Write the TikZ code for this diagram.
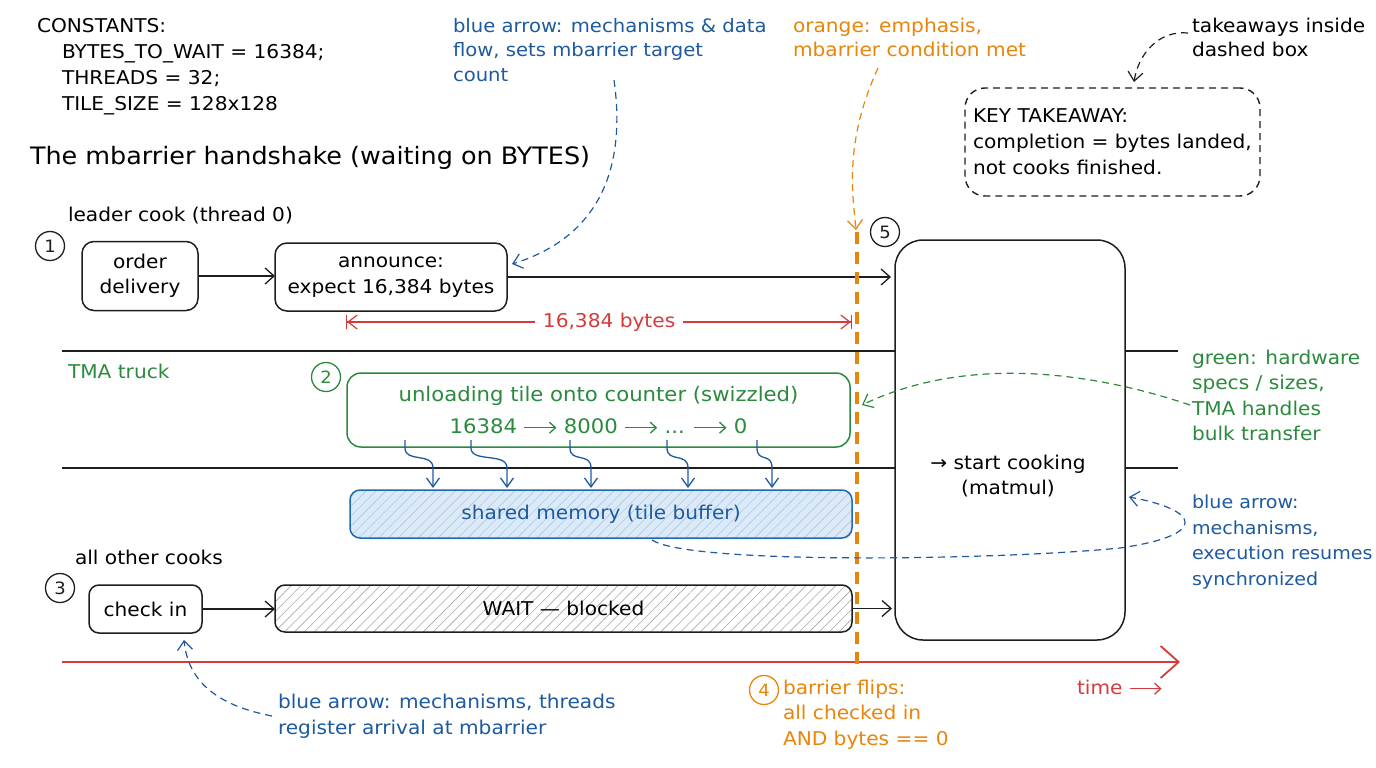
\documentclass[tikz,border=0pt]{standalone}
\usepackage{fontspec}
\setmainfont{DejaVu Sans}[FakeStretch=1.06]
\usetikzlibrary{arrows.meta,patterns.meta}
\definecolor{ink}{HTML}{1E1E1E}
\definecolor{bluec}{HTML}{1E5AA0}
\definecolor{greenc}{HTML}{2B8A3E}
\definecolor{orangec}{HTML}{E8850C}
\definecolor{redc}{HTML}{D63A3A}
\definecolor{smfill}{HTML}{DCEAF8}
\definecolor{smhatch}{HTML}{A9C9EA}
\definecolor{smborder}{HTML}{2068B0}
\definecolor{grayhatch}{HTML}{A8A8A8}
\newcommand{\lra}{\tikz[baseline=-0.55ex]\draw[line width=1.3pt,-{Straight Barb[length=6pt,width=11pt,line width=1.3pt]}] (0,0) -- (32pt,0);}
\begin{document}
\begin{tikzpicture}[x=1pt,y=-1pt,
  every node/.style={inner sep=0pt, outer sep=0pt},
  f/.style={font=\fontsize{19}{25.5}\selectfont},
  note/.style={f, align=left, anchor=north west},
  box/.style={f, draw=ink, line width=1.5pt, rounded corners=12pt, align=center},
  num/.style={circle, draw=#1, text=#1, line width=1.3pt, minimum size=29pt, font=\fontsize{17}{17}\selectfont},
  arr/.style={draw=ink, line width=1.3pt, -{Straight Barb[length=9pt,width=16pt,line width=1.3pt]}},
  dsh/.style={dash pattern=on 7pt off 5pt, line width=1.2pt},
  tipb/.style={-{Straight Barb[length=9pt,width=15pt,line width=1.2pt]}}
]
\fill[white] (0,0) rectangle (1376,768);
\useasboundingbox (0,0) rectangle (1376,768);

% texts top
\node[note, font=\fontsize{19}{26}\selectfont] (const) at (37,18) {CONSTANTS:\\\hspace*{25pt}BYTES\_TO\_WAIT = 16384;\\\hspace*{25pt}THREADS = 32;\\\hspace*{25pt}TILE\_SIZE = 128x128};
\node[note, font=\fontsize{24}{28}\selectfont] (title) at (30,146) {The mbarrier handshake (waiting on BYTES)};
\node[note, text=bluec, font=\fontsize{18.5}{24.5}\selectfont] (nblue1) at (453,18) {blue arrow: mechanisms \& data\\flow, sets mbarrier target\\count};
\node[note, text=orangec, font=\fontsize{19}{24.5}\selectfont] (norange1) at (793,18) {orange: emphasis,\\mbarrier condition met};
\node[note, font=\fontsize{19}{24.5}\selectfont] (ntake) at (1192,18) {takeaways inside\\dashed box};

% key takeaway box
\node[draw=ink, dsh, line width=1.4pt, rounded corners=20pt, minimum width=295pt, minimum height=108pt, text width=279pt, align=left, inner xsep=8pt, font=\fontsize{19}{26}\selectfont] (key) at (1112.5,142) {KEY TAKEAWAY:\\completion = bytes landed,\\not cooks finished.};

% lane lines
\coordinate (l1a) at (62,351); \coordinate (l1b) at (1178,351);
\coordinate (l2a) at (62,468); \coordinate (l2b) at (1178,468);
\draw[ink, line width=1.5pt] (l1a) -- (l1b);
\draw[ink, line width=1.5pt] (l2a) -- (l2b);

% time axis
\coordinate (t0) at (62,662); \coordinate (t1) at (1180,662);
\draw[redc, line width=1.8pt, -{Straight Barb[length=18pt,width=32pt,line width=1.8pt]}] (t0) -- (t1);

% big box
\node[box, fill=white, minimum width=230pt, minimum height=400pt, rounded corners=28pt] (cook) at (1010,440) {};
\node[f, align=center] (cooktxt) at (1008,476) {→ start cooking\\(matmul)};

% lane 1
\node[note] (leader) at (68,207) {leader cook (thread 0)};
\node[num=ink] (n1) at (50,246) {1};
\node[box, minimum width=116pt, minimum height=69pt] (od) at (140,276) {order\\delivery};
\node[box, minimum width=232pt, minimum height=68pt] (ann) at (391,277) {announce:\\expect 16,384 bytes};
\draw[arr] (od.east) -- (ann.west |- od.east);
\draw[arr, shorten >=4pt] (ann.east) -- (cook.west |- ann.east);

% dimension
\coordinate (dL) at (346,322); \coordinate (dR) at (852,322);
\draw[redc, line width=1.2pt, {Bar[width=14pt,line width=1.2pt]Straight Barb[length=9pt,width=14pt,line width=1.2pt]}-{Straight Barb[length=9pt,width=14pt,line width=1.2pt]Bar[width=14pt,line width=1.2pt]}] (dL) -- node[pos=0.52, fill=white, inner xsep=8pt, inner ysep=4pt, text=redc, f] (dimlbl) {16,384 bytes} (dR);

% lane 2
\node[note, text=greenc] (tma) at (68,364) {TMA truck};
\node[num=greenc] (n2) at (326,377) {2};
\node[box, draw=greenc, text=greenc, minimum width=503pt, minimum height=74pt, rounded corners=14pt, font=\fontsize{20}{25.5}\selectfont] (gb) at (598.5,410) {unloading tile onto counter (swizzled)\\[7pt]16384 \lra{} 8000 \lra{} ... \lra{} 0};
\node[box, draw=smborder, text=bluec, minimum width=502pt, minimum height=48pt, rounded corners=10pt, preaction={fill=smfill}, pattern={Lines[angle=45,distance=7pt,line width=0.6pt]}, pattern color=smhatch] (sm) at (601,514) {shared memory (tile buffer)};
\foreach \a/\b [count=\i] in {405/433, 471/507, 570/591, 667/688, 757/772} {
  \coordinate (sqs\i) at (\a,440);
  \coordinate (sqe\i) at (\b,488);
  \draw[bluec, line width=1.3pt, -{Straight Barb[length=9pt,width=13pt,line width=1.3pt]}] (sqs\i) -- (\a,448) .. controls (\a,463) and (\b,452) .. (\b,468) -- (sqe\i);
}

% lane 3
\node[note] (others) at (75,550) {all other cooks};
\node[num=ink] (n3) at (60,588) {3};
\node[box, minimum width=113pt, minimum height=48pt, rounded corners=10pt] (ci) at (145.5,609) {check in};
\node[box, minimum width=577pt, minimum height=47pt, rounded corners=10pt, preaction={fill=white}, pattern={Lines[angle=45,distance=7pt,line width=0.6pt]}, pattern color=grayhatch] (wait) at (563.5,608.5) {};
\node[f] (waittxt) at (563.5,608.5) {WAIT — blocked};
\draw[arr] (ci.east) -- (wait.west |- ci.east);
\draw[arr, shorten >=3pt] (wait.east) -- (cook.west |- wait.east);

% orange barrier line
\coordinate (o1) at (857,232); \coordinate (o2) at (857,664);
\draw[orangec, line width=3.2pt, dash pattern=on 12pt off 8pt] (o1) -- (o2);
\node[num=ink] (n5) at (885,232) {5};

% right notes
\node[note, text=greenc] (ngreen) at (1192,350) {green: hardware\\specs / sizes,\\TMA handles\\bulk transfer};
\node[note, text=bluec, font=\fontsize{18}{25.5}\selectfont] (nblue2) at (1192,495) {blue arrow:\\mechanisms,\\execution resumes\\synchronized};

% bottom notes
\node[num=orangec] (n4) at (764,690) {4};
\node[note, text=orangec] (norange2) at (783,680) {barrier flips:\\all checked in\\AND bytes == 0};
\node[note, text=redc] (ntime) at (1077,680) {time \textcolor{redc}{\lra}};
\node[note, text=bluec, font=\fontsize{19}{26}\selectfont] (nblue3) at (278,694) {blue arrow: mechanisms, threads\\register arrival at mbarrier};

% annotation connectors
\coordinate (b1s) at (614,80); \coordinate (b1e) at (512,264);
\draw[bluec, dsh, tipb] (b1s) .. controls (628,180) and (590,240) .. (b1e);
\coordinate (o3s) at (878,68); \coordinate (o3e) at (856,230);
\draw[orangec, dsh, tipb] (o3s) .. controls (845,140) and (852,190) .. (o3e);
\coordinate (k1s) at (1188,33); \coordinate (k1e) at (1134,82);
\draw[ink, dsh, tipb] (k1s) .. controls (1158,30) and (1138,55) .. (k1e);
\coordinate (g1s) at (1190,405); \coordinate (g1e) at (862,405);
\draw[greenc, dsh, tipb] (g1s) .. controls (1080,368) and (960,358) .. (g1e);
\coordinate (b2s) at (652,540); \coordinate (b2e) at (1129,497);
\draw[bluec, dsh, tipb] (b2s) .. controls (690,565) and (1000,560) .. (1120,548) .. controls (1210,535) and (1200,510) .. (b2e);
\coordinate (b3s) at (272,716); \coordinate (b3e) at (184,640);
\draw[bluec, dsh, tipb] (b3s) .. controls (215,705) and (188,680) .. (b3e);
\end{tikzpicture}
\end{document}
